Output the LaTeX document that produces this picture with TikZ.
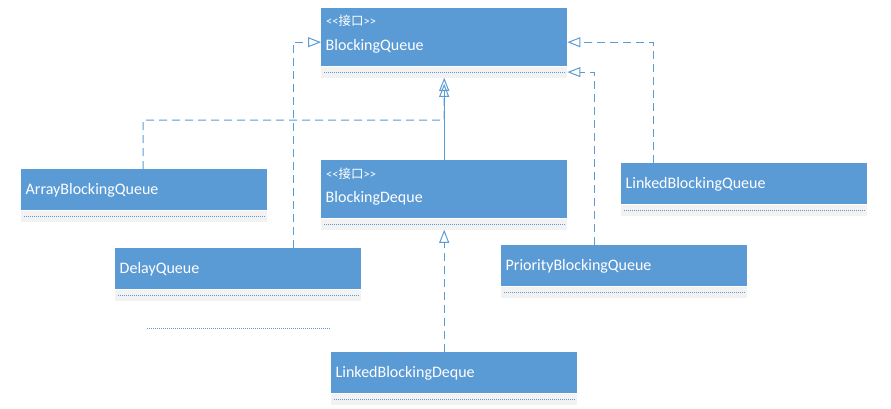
\documentclass[tikz,border=0pt]{standalone}
\usepackage{fontspec}
\setmainfont{Carlito}
\newfontfamily\cjk{Noto Sans CJK SC}
\usetikzlibrary{arrows.meta,positioning}
\definecolor{umlblue}{HTML}{5B9BD5}
\definecolor{umlline}{HTML}{5B9BD5}
\definecolor{umlgray}{HTML}{F2F2F2}
\tikzset{
  cls/.style={anchor=north west,rectangle,fill=umlblue,text=white,
    font=\fontsize{16}{19}\selectfont,text width=237pt,inner xsep=4.5pt,
    inner ysep=0pt,align=left,minimum height=41pt,text height=11pt,text depth=1pt},
  iface/.style={cls,minimum height=58pt,text height=27pt},
  stereo/.style={anchor=base west,text=white,inner sep=0pt,
    font=\fontsize{12.5}{14}\selectfont},
  ops/.style={rectangle,fill=umlgray,minimum width=246pt,minimum height=11pt,inner sep=0pt},
  opsline/.style={umlline,line width=0.5pt,dash pattern=on 1pt off 1pt},
  realize/.style={umlline,line width=1pt,dash pattern=on 8pt off 5pt,
    -{Triangle[open,length=13pt,width=10pt]}},
  extends/.style={umlline,line width=1pt,-{Triangle[open,length=13pt,width=10pt]}}
}
\begin{document}
\begin{tikzpicture}[x=1pt,y=-1pt]
\useasboundingbox (0,0) rectangle (891,408);

% Interfaces
\node[iface] (bq) at (321,8) {BlockingQueue};
\node[stereo] (bq-st) at ([shift={(5pt,-17pt)}]bq.north west) {<{}<{\cjk 接口}>{}>};
\node[iface] (bd) at (321,160) {BlockingDeque};
\node[stereo] (bd-st) at ([shift={(5pt,-18pt)}]bd.north west) {<{}<{\cjk 接口}>{}>};

% Classes
\node[cls] (abq) at (21,169) {ArrayBlockingQueue};
\node[cls] (dq) at (115,248) {DelayQueue};
\node[cls] (lbq) at (621,163) {LinkedBlockingQueue};
\node[cls] (pbq) at (501,245) {PriorityBlockingQueue};
\node[cls] (lbd) at (331,352) {LinkedBlockingDeque};

% Operation compartments
\foreach \c in {bq,bd,abq,dq,lbq,pbq,lbd} {
  \node[ops,below=0pt of \c] (\c-ops) {};
  \draw[opsline] ([xshift=3pt]\c-ops.west) -- ([xshift=-3pt]\c-ops.east);
}

% Connector bends
\coordinate (dq-up) at (293,248);
\coordinate (lbq-up) at (653,163);
\coordinate (pbq-up) at (594,245);
\coordinate (abq-up) at (143,169);
\coordinate (abq-knee) at (444,120);

% Realization
\draw[realize] (dq-up) |- ([yshift=-5pt]bq.west);
\draw[realize] (lbq-up) |- ([yshift=-5pt]bq.east);
\draw[realize] (pbq-up) |- (bq-ops.east);
\draw[realize] (abq-up) |- (abq-knee) -- ([yshift=-6pt]bq-ops.south);
\draw[realize] (lbd.north -| bd-ops.south) -- (bd-ops.south);

% Generalization
\draw[extends] (bd.north) -- (bq-ops.south);

% Loose line
\coordinate (loose-l) at (147,328);
\coordinate (loose-r) at (330,328);
\draw[opsline] (loose-l) -- (loose-r);
\end{tikzpicture}
\end{document}
